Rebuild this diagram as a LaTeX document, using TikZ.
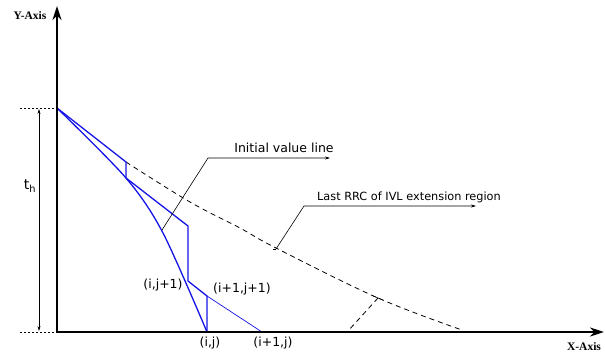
\documentclass[tikz,border=0pt]{standalone}
\usepackage{fontspec}
\setmainfont{DejaVu Sans}
\newfontfamily\axisfont{Liberation Serif}
\usetikzlibrary{arrows.meta,calc}
\definecolor{lineblue}{RGB}{20,20,230}
\tikzset{
  axis/.style={line width=2.2pt,-{Stealth[length=14pt,width=9pt]}},
  blueline/.style={lineblue,line width=1.3pt},
  thinblue/.style={lineblue,line width=0.7pt},
  dashline/.style={line width=0.8pt,dash pattern=on 5pt off 4pt},
  guide/.style={line width=0.5pt,dash pattern=on 2pt off 2pt},
  leader/.style={line width=0.6pt,-{Stealth[length=5pt,width=3pt]}},
  lbl/.style={font=\fontsize{12.5}{14}\selectfont,inner sep=0pt},
  axlbl/.style={font=\axisfont\bfseries\fontsize{11.5}{13}\selectfont,inner sep=0pt}
}
\begin{document}
\begin{tikzpicture}[x=1pt,y=-1pt]
\useasboundingbox (0,0) rectangle (605,354);
% key coordinates
\coordinate (O) at (57,332);
\coordinate (T) at (57,108);
\coordinate (Ytip) at (57,6);
\coordinate (Xtip) at (604,332);
\coordinate (A) at (126,162);
\coordinate (B) at (126,178);
\coordinate (C) at (188,226);
\coordinate (D) at (188,281);
\coordinate (E) at (207,296);
\coordinate (F) at (207,332);
\coordinate (G) at (262,332);
\coordinate (H) at (462,330);
\coordinate (K) at (378,298);
\coordinate (K2) at (348,331);
\coordinate (L1) at (162,230);
\coordinate (L2) at (208,158);
\coordinate (L3) at (330,158);
\coordinate (M1) at (276,249);
\coordinate (M2) at (304,206);
\coordinate (M3) at (476,206);
\coordinate (GT) at (20,108);
\coordinate (GB) at (20,332);
\coordinate (P1) at (39,109);
\coordinate (P2) at (39,331);
% guides and t_h
\draw[guide] (GT) -- (T);
\draw[guide] (GB) -- (O);
\draw[line width=0.5pt,{Stealth[length=5pt,width=3pt]}-{Stealth[length=5pt,width=3pt]}] (P1) -- (P2);
\node[font=\fontsize{14}{16}\selectfont,inner sep=0pt] (th) at (30,186) {t\textsubscript{h}};
% dashed extension curve
\draw[dashline] plot[smooth,tension=0.6] coordinates {(126,162) (190,202) (240,228) (276,248) (378,298) (462,330)};
\draw[dashline] (K) -- (K2);
\draw[line width=0.6pt] ($(K)+(-5,-2)$) -- ($(K)+(5,2)$);
% blue lines
\draw[blueline] plot[smooth,tension=0.5] coordinates {(57,108) (126,178) (163,233) (207,332)};
\draw[blueline] (T) -- (A) -- (B) -- (C) -- (D) -- (E) -- (F);
\draw[thinblue] (E) -- (G);
% leaders
\draw[leader] (L1) -- (L2) -- (L3);
\draw[leader] (M1) -- (M2) -- (M3);
\draw[line width=0.6pt] ($(M1)+(-3,0)$) -- (M1);
% axes
\draw[axis] (O) -- (Ytip);
\draw[axis] ($(O)+(-1.1,0)$) -- (Xtip);
% labels
\node[axlbl] (yl) at (30,16) {Y-Axis};
\node[axlbl] (xl) at (584,347) {X-Axis};
\node[lbl] (ivl) at (284,148) {Initial value line};
\node[lbl,font=\fontsize{11.3}{13}\selectfont] (rrc) at (409,197) {Last RRC of IVL extension region};
\node[lbl] (ij1) at (163,285) {(i,j+1)};
\node[lbl] (i1j1) at (242,289) {(i+1,j+1)};
\node[lbl] (ij) at (210,343) {(i,j)};
\node[lbl] (i1j) at (273,343) {(i+1,j)};
\end{tikzpicture}
\end{document}
